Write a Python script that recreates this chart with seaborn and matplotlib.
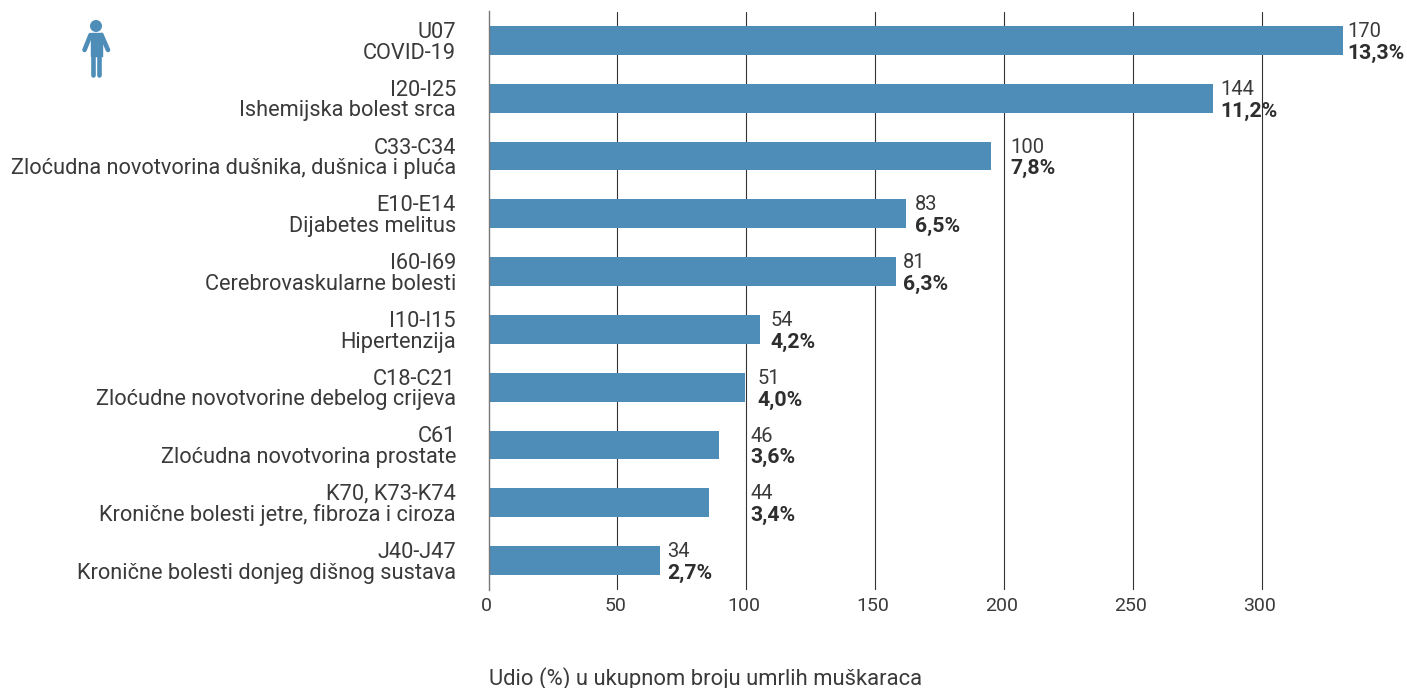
import pandas as pd
import seaborn as sb
import matplotlib.pyplot as plt
from matplotlib.patches import Circle, Polygon
from matplotlib.transforms import ScaledTranslation

codes = ['U07', 'I20-I25', 'C33-C34', 'E10-E14', 'I60-I69', 'I10-I15',
         'C18-C21', 'C61', 'K70, K73-K74', 'J40-J47']
names = ['COVID-19', 'Ishemijska bolest srca',
         'Zloćudna novotvorina dušnika, dušnica i pluća', 'Dijabetes melitus',
         'Cerebrovaskularne bolesti', 'Hipertenzija',
         'Zloćudne novotvorine debelog crijeva', 'Zloćudna novotvorina prostate',
         'Kronične bolesti jetre, fibroza i ciroza',
         'Kronične bolesti donjeg dišnog sustava']
lengths = [331.5, 281, 195, 162, 158, 105.5, 99.5, 89.6, 85.7, 66.5]
counts = ['170', '144', '100', '83', '81', '54', '51', '46', '44', '34']
shares = ['13,3%', '11,2%', '7,8%', '6,5%', '6,3%', '4,2%', '4,0%', '3,6%', '3,4%', '2,7%']
xticks = [0, 50, 100, 150, 200, 250, 300]

BLUE = '#4d8db8'
TEXT = '#3a3a3a'
# gap between bar end and its label, points
label_gaps = [3.2, 5.5, 13.7, 6.6, 5, 7.2, 9.2, 22.3, 29.5, 5]

df = pd.DataFrame({'label': [f'{c}\n{n}' for c, n in zip(codes, names)],
                   'value': lengths})

sb.set_theme(style='white')
plt.rcParams['font.family'] = ['Roboto', 'DejaVu Sans']

fig = plt.figure(figsize=(14.07, 6.88), dpi=100)
ax = fig.add_axes([488.6 / 1407, 1 - 589.5 / 688, 1 - 488.6 / 1407, 578 / 688])

ax.grid(False)
for t in xticks[1:]:
    ax.axvline(t, color='#333333', lw=0.8, zorder=0)

sb.barplot(df, y='label', x='value', color=BLUE, saturation=1, width=0.5,
           linewidth=0, ax=ax)

ax.set_xlim(0, 918.4 / 2.577)
ax.set_ylim(9.5, -0.5)
ax.set_xticks(xticks)
ax.set_ylabel('')
ax.set_xlabel('Udio (%) u ukupnom broju umrlih muškaraca', loc='left',
              fontsize=15.8, color=TEXT, labelpad=37)
ax.tick_params(axis='y', length=0, pad=23.5, labelsize=15.7, labelcolor=TEXT)
ax.tick_params(axis='x', length=0, pad=5.5, labelsize=14, labelcolor=TEXT)
for lab in ax.get_yticklabels():
    lab.set_linespacing(0.98)
# tick numbers sit a little left of their gridline
shift = ScaledTranslation(-2 / 100, 0, fig.dpi_scale_trans)
for lab in ax.get_xticklabels():
    lab.set_transform(lab.get_transform() + shift)

for s in ['top', 'right', 'bottom']:
    ax.spines[s].set_visible(False)
ax.spines['left'].set_color('#777777')
ax.spines['left'].set_linewidth(1)

# count and share next to each bar
for i, v in enumerate(lengths):
    ax.annotate(counts[i], (v, i), xytext=(label_gaps[i], 6.4), textcoords='offset points',
                ha='left', va='center', fontsize=14.5, color=TEXT, annotation_clip=False)
    ax.annotate(shares[i], (v, i), xytext=(label_gaps[i], -9.2), textcoords='offset points',
                ha='left', va='center', fontsize=15.3, fontweight='bold', color='#2e2e2e',
                annotation_clip=False)

# man icon, pixel coordinates of the figure
icon = fig.add_axes([0, 0, 1, 1], facecolor='none')
icon.set_xlim(0, 1407)
icon.set_ylim(688, 0)
icon.axis('off')
icon.add_patch(Circle((96, 26), 6, color=BLUE, lw=0))
icon.add_patch(Polygon([(90.5, 33), (101.5, 33), (101.5, 56), (90.5, 56)], closed=True,
                       fc=BLUE, ec=BLUE, lw=1, joinstyle='round'))
for xs, ys in [([90.5, 84.5], [35, 50]), ([101.5, 108], [35, 50]),
               ([93.2, 93.2], [54, 75]), ([99.2, 99.2], [54, 75])]:
    icon.plot(xs, ys, color=BLUE, lw=3.3, solid_capstyle='round')

plt.savefig('out.png', dpi=100)
